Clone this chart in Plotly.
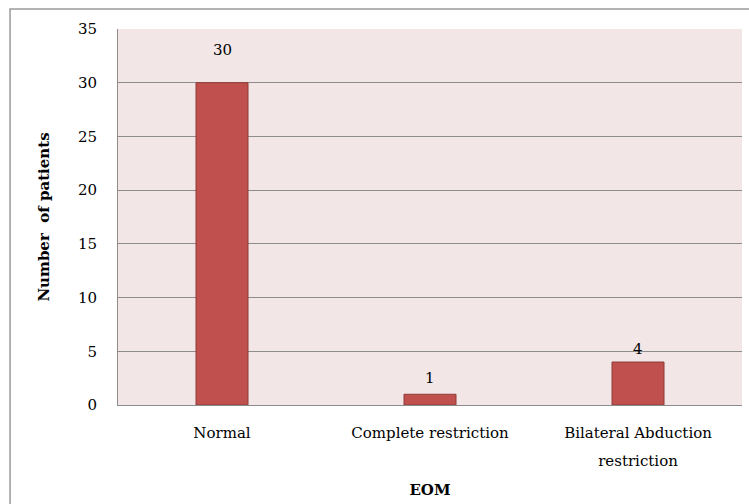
import plotly.graph_objects as go

# Extra-ocular movement findings
categories = ["Normal", "Complete restriction", "Bilateral Abduction restriction"]
tick_labels = ["Normal", "Complete restriction", "Bilateral Abduction<br>restriction"]
patients = [30, 1, 4]
y_ticks = [0, 5, 10, 15, 20, 25, 30, 35]

# vertical offset (px) of each value label above its bar
label_offsets = [33, 16, 13]

FONT = "DejaVu Serif"
SIZE = 15
BAR_FILL = "#C0504D"
BAR_EDGE = "#8E3B39"
PLOT_BG = "#F2E7E6"
GRID = "#8C8C8C"

# loose line spacing for the wrapped category labels: a larger base size
# sets the line height, the inner span sets the glyph size
tick_text = [f'<span style="font-size:{SIZE}px">{t}</span>' for t in tick_labels]

fig = go.Figure()
fig.add_trace(go.Bar(
    x=categories,
    y=patients,
    width=0.25,
    marker=dict(color=BAR_FILL, line=dict(color=BAR_EDGE, width=1)),
    hoverinfo="skip",
))

for cat, val, off in zip(categories, patients, label_offsets):
    fig.add_annotation(
        x=cat, y=val, text=str(val), showarrow=False,
        yshift=off, yanchor="middle",
        font=dict(family=FONT, size=SIZE, color="#000000"),
    )

# outer chart frame
fig.add_shape(
    type="rect", xref="paper", yref="paper",
    x0=-0.173, y0=-0.4, x1=1.2, y1=1.053,
    line=dict(color="#9A9A9A", width=1.5), fillcolor="rgba(0,0,0,0)",
    layer="below",
)

fig.update_layout(
    width=749, height=504,
    margin=dict(l=118, r=7, t=29, b=99),
    paper_bgcolor="#FFFFFF",
    plot_bgcolor=PLOT_BG,
    showlegend=False,
    font=dict(family=FONT, size=SIZE, color="#000000"),
    xaxis=dict(
        showgrid=False,
        showline=True, linecolor=GRID, linewidth=1,
        ticks="", ticklabelstandoff=7,
        tickmode="array", tickvals=categories, ticktext=tick_text,
        tickfont=dict(family=FONT, size=21),
        title=dict(text="<b>EOM</b>", font=dict(family=FONT, size=SIZE), standoff=15),
    ),
    yaxis=dict(
        range=[0, 35],
        tickvals=y_ticks,
        showgrid=True, gridcolor=GRID, gridwidth=1,
        showline=True, linecolor=GRID, linewidth=1,
        zeroline=False,
        ticks="", ticklabelstandoff=17,
        tickfont=dict(family=FONT, size=SIZE),
        title=dict(text="<b>Number  of patients</b>", font=dict(family=FONT, size=SIZE), standoff=24),
    ),
)

fig.write_html("out.html")
